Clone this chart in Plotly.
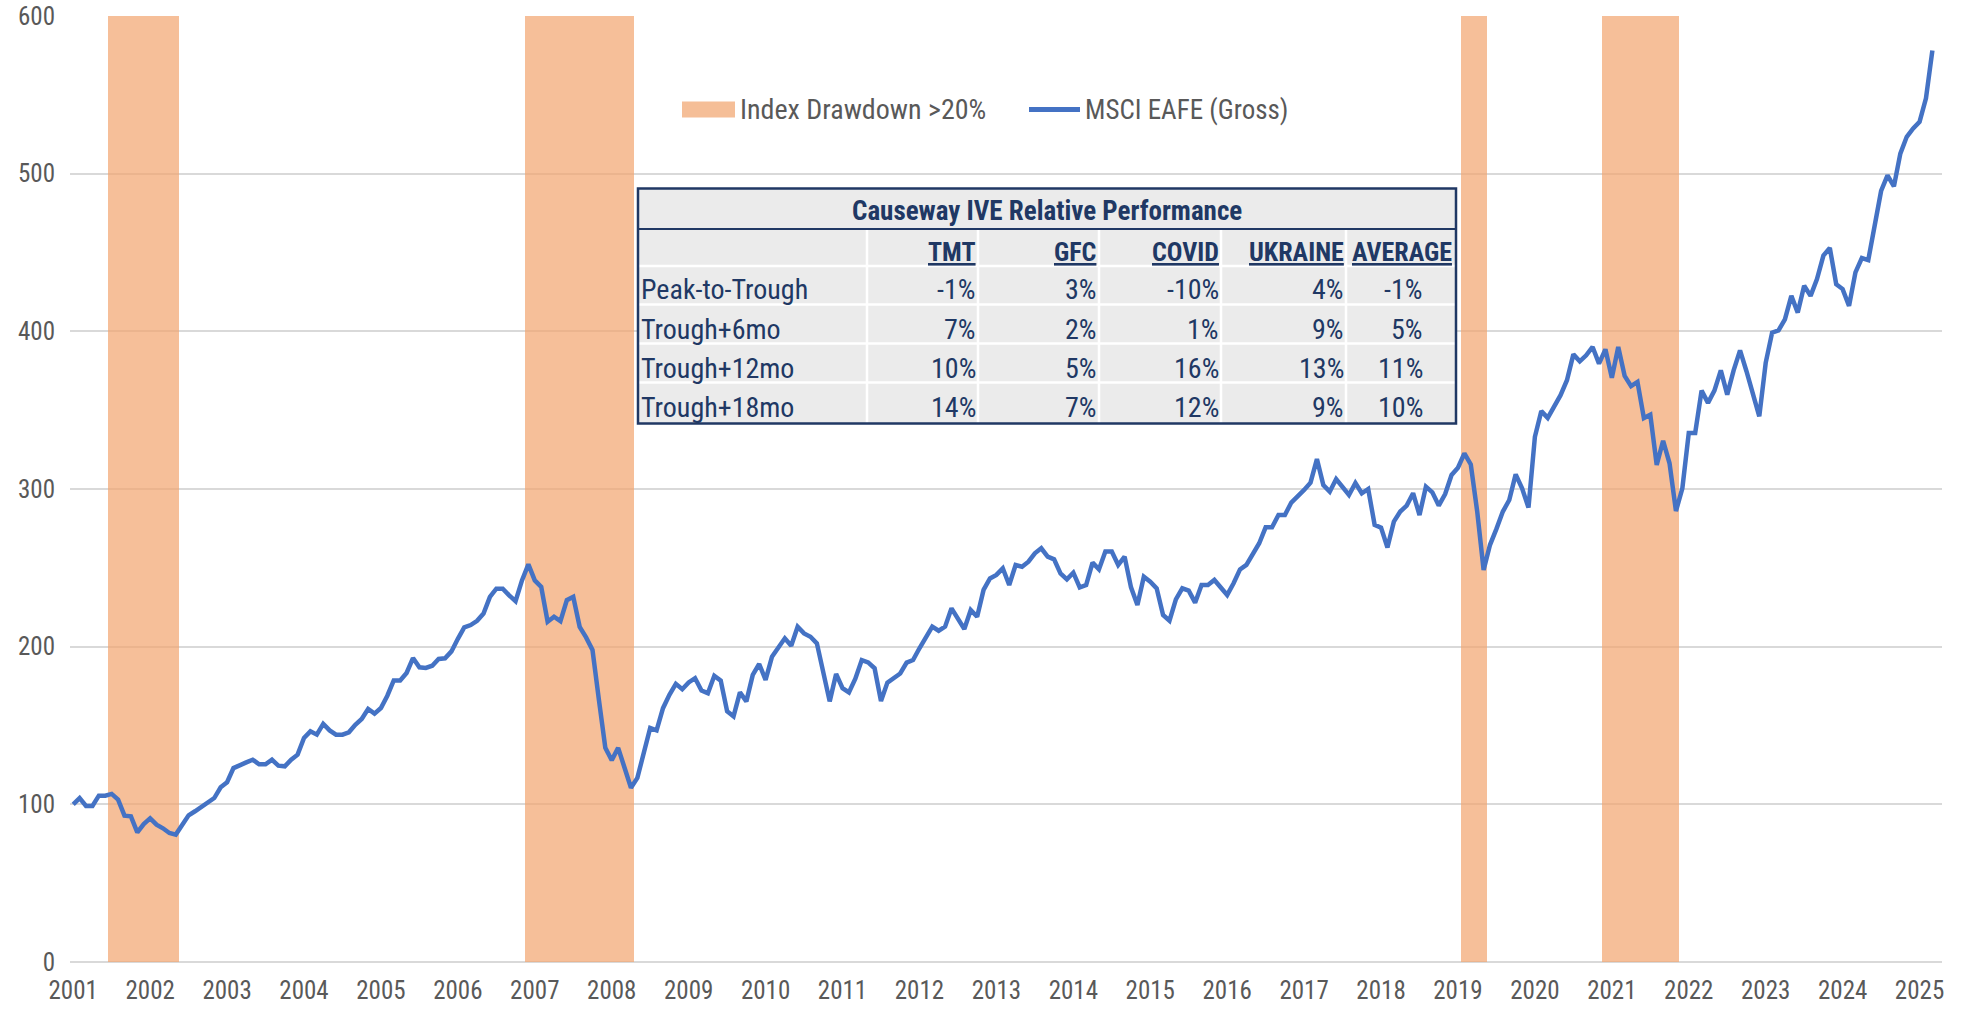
import plotly.graph_objects as go

# ---------------- data ----------------
year_labels = ["2001", "2002", "2003", "2004", "2005", "2006", "2007", "2008", "2009",
               "2010", "2011", "2012", "2013", "2014", "2015", "2016", "2017", "2018",
               "2019", "2020", "2021", "2022", "2023", "2024", "2025"]

msci_eafe = [
    100, 104, 99, 99, 105.5, 105.5, 106.6, 103, 92.8, 92.4, 82.2, 87.5,
    91.1, 87.1, 84.8, 81.8, 80.8, 87.1, 93, 95.6, 98.3, 101.3, 104, 110.8,
    114, 123, 124.5, 126.6, 128.3, 125.4, 125.4, 128.3, 124.5, 124.1, 128.3, 131.5,
    142.1, 146.3, 144.2, 151, 146.9, 144.2, 144.2, 145.7, 150.5, 154.1, 160.5, 157.5,
    161.1, 168.9, 178.6, 178.6, 183.3, 192.8, 186.9, 186.5, 187.9, 192.2, 192.6, 197,
    205, 212.2, 213.7, 216.4, 221, 231.6, 236.8, 236.8, 232.6, 228.8, 242, 252.2,
    242, 237.9, 215.8, 219, 216.2, 229.5, 231.6, 212.6, 205.9, 197.9, 166.3, 135.8,
    128, 135.8, 123.2, 110.5, 116.8, 132.6, 148.4, 146.9, 161, 169.5, 176.4, 173,
    177.3, 180, 172.2, 170.5, 181.5, 178.5, 159, 155.8, 171, 165.3, 182.1, 189,
    179, 193.7, 199, 205.3, 200.6, 212.6, 208.4, 206.3, 202.1, 184, 165.3, 182.7,
    173.7, 171, 179.7, 191.5, 190, 186.3, 165.5, 177.2, 180, 183, 189.9, 191.5,
    199, 205.3, 212.7, 210.1, 212.7, 224.3, 218, 211.2, 223.3, 219, 236, 243.3,
    245.5, 249.7, 239.1, 251.8, 250.7, 253.9, 259.2, 262.4, 257.1, 255.4, 246.5, 242.7,
    246.9, 237.6, 239.1, 253.3, 249, 260.3, 260.3, 251.8, 257.1, 237.6, 226.4, 244.4,
    241.2, 237, 220.1, 216.5, 230, 237, 235.5, 227.9, 239.1, 239.1, 242.3, 237,
    232.8, 240.2, 249, 251.9, 259.3, 265.6, 275.7, 275.7, 283.5, 283.5, 291.4, 295.1,
    299.4, 304, 319, 302.5, 298.3, 306.3, 301.5, 296.2, 303.8, 297.3, 300, 277.2,
    275.5, 262.9, 279.3, 285.7, 289.5, 297.3, 283.5, 301.5, 297.9, 289.5, 296.8, 308.9,
    313.5, 322.6, 315.6, 285.7, 248.7, 264.6, 274.7, 285.7, 293, 309.3, 300.4, 288.2,
    333.1, 349.4, 345.1, 352.7, 359.5, 369, 385.4, 381, 384.8, 390.1, 379.5, 388.6,
    370.5, 390.1, 371.7, 365.2, 367.9, 345, 347.1, 315.3, 330.6, 316.3, 286, 300.4,
    335.5, 335.5, 362.4, 354.6, 362.4, 375.2, 359.9, 375.2, 387.9, 374.7, 360.9, 346.1,
    380, 399.2, 400.6, 407.6, 422.5, 411.9, 428.9, 422.5, 433.1, 448, 452.9, 429.9,
    426.8, 416.1, 437.4, 446.5, 445.2, 467.1, 489, 498.9, 491.9, 512.7, 523.4, 528.7,
    532.9, 547.8, 578.1,
]

# drawdown periods (month index, inclusive)
drawdown_start = [6, 71, 217, 239]
drawdown_end = [16, 87, 220, 250]
drawdown_level = 600

table_title = "Causeway IVE Relative Performance"
table_columns = ["TMT", "GFC", "COVID", "UKRAINE", "AVERAGE"]
table_rows = ["Peak-to-Trough", "Trough+6mo", "Trough+12mo", "Trough+18mo"]
table_values = [
    ["-1%", "3%", "-10%", "4%", "-1%"],
    ["7%", "2%", "1%", "9%", "5%"],
    ["10%", "5%", "16%", "13%", "11%"],
    ["14%", "7%", "12%", "9%", "10%"],
]

# ---------------- build ----------------
months = list(range(len(msci_eafe)))
drawdown = [drawdown_level if any(s <= m <= e for s, e in zip(drawdown_start, drawdown_end)) else 0
            for m in months]
tick_positions = [12 * k for k in range(len(year_labels))]

FONT = "Liberation Sans Narrow, Arial Narrow, Roboto Condensed, Roboto, sans-serif"
GRAY = "#595959"
NAVY = "#203864"
ORANGE = "rgba(242,164,109,0.7)"
BLUE = "#4472C4"

# the page's body margin is removed (post_script), so figure pixels == screen pixels
W, H = 1965, 1013
SL, SR, ST, SB = 70, 1942, 16.4, 962.4


def px(x):  # screen x -> paper
    return (x - SL) / (SR - SL)


def py(y):  # screen y -> paper
    return (SB - y) / (SB - ST)


fig = go.Figure()
fig.add_trace(go.Bar(x=months, y=drawdown, width=1, marker=dict(color=ORANGE, line=dict(width=0)),
                     name="Index Drawdown >20%", showlegend=False, hoverinfo="skip"))
fig.add_trace(go.Scatter(x=months, y=msci_eafe, mode="lines", line=dict(color=BLUE, width=4.5),
                         name="MSCI EAFE (Gross)", showlegend=False))

shapes = []
annotations = []

# legend (drawn manually)
shapes.append(dict(type="rect", xref="paper", yref="paper", x0=px(682), x1=px(735), y0=py(118), y1=py(102),
                   fillcolor="#F5BE97", line=dict(width=0)))
annotations.append(dict(text="Index Drawdown >20%", xref="paper", yref="paper", x=px(738), y=py(110),
                        xanchor="left", yanchor="middle", showarrow=False,
                        font=dict(family=FONT, size=28, color=GRAY)))
shapes.append(dict(type="line", xref="paper", yref="paper", x0=px(1029), x1=px(1080), y0=py(110), y1=py(110),
                   line=dict(color=BLUE, width=5)))
annotations.append(dict(text="MSCI EAFE (Gross)", xref="paper", yref="paper", x=px(1083), y=py(110),
                        xanchor="left", yanchor="middle", showarrow=False,
                        font=dict(family=FONT, size=27, color=GRAY)))

# table
TX0, TX1, TY0, TY1 = 638, 1456, 189, 424
col_edges = [638, 867, 978, 1099, 1221, 1346, 1456]
row_edges = [230, 266.5, 305, 344, 383, 424]
shapes.append(dict(type="rect", xref="paper", yref="paper", x0=px(TX0), x1=px(TX1), y0=py(TY1), y1=py(TY0),
                   fillcolor="#EBEBEB", line=dict(width=0), layer="above"))
for cx in col_edges[1:-1]:
    shapes.append(dict(type="line", xref="paper", yref="paper", x0=px(cx), x1=px(cx), y0=py(TY1), y1=py(230),
                       line=dict(color="white", width=2.5), layer="above"))
for ry in row_edges[1:-1]:
    shapes.append(dict(type="line", xref="paper", yref="paper", x0=px(TX0), x1=px(TX1), y0=py(ry), y1=py(ry),
                       line=dict(color="white", width=2.5), layer="above"))
shapes.append(dict(type="line", xref="paper", yref="paper", x0=px(TX0), x1=px(TX1), y0=py(229.3), y1=py(229.3),
                   line=dict(color=NAVY, width=2), layer="above"))
shapes.append(dict(type="rect", xref="paper", yref="paper", x0=px(TX0), x1=px(TX1), y0=py(TY1), y1=py(TY0),
                   fillcolor="rgba(0,0,0,0)", line=dict(color=NAVY, width=2.5), layer="above"))

annotations.append(dict(text="<b>" + table_title + "</b>", xref="paper", yref="paper",
                        x=px((TX0 + TX1) / 2), y=py(211), xanchor="center", yanchor="middle",
                        showarrow=False, font=dict(family=FONT, size=27, color=NAVY)))
value_right = [976, 1097, 1219, 1344, 1423]
header_right = [976, 1097, 1219, 1344, 1452]
for c, name in enumerate(table_columns):
    annotations.append(dict(text="<b><u>" + name + "</u></b>", xref="paper", yref="paper",
                            x=px(header_right[c] + 2), y=py(252), xanchor="right", yanchor="middle",
                            showarrow=False, font=dict(family=FONT, size=26, color=NAVY)))
row_centers = [290, 329.5, 368.5, 408]
for r, label in enumerate(table_rows):
    annotations.append(dict(text=label, xref="paper", yref="paper", x=px(639), y=py(row_centers[r]),
                            xanchor="left", yanchor="middle", showarrow=False,
                            font=dict(family=FONT, size=28, color=NAVY)))
    for c, val in enumerate(table_values[r]):
        annotations.append(dict(text=val, xref="paper", yref="paper", x=px(value_right[c] + 2),
                                y=py(row_centers[r]), xanchor="right", yanchor="middle", showarrow=False,
                                font=dict(family=FONT, size=28, color=NAVY)))

fig.update_layout(
    width=W, height=H,
    margin=dict(l=SL, r=W - SR, t=ST, b=H - SB, pad=0, autoexpand=False),
    paper_bgcolor="white", plot_bgcolor="white",
    bargap=0, barmode="overlay",
    showlegend=False,
    shapes=shapes, annotations=annotations,
    xaxis=dict(range=[-0.5, len(msci_eafe) + 0.5], tickmode="array", tickvals=tick_positions,
               ticktext=year_labels, showgrid=False, zeroline=False, showline=False, automargin=False,
               ticks="", tickfont=dict(family=FONT, size=25, color=GRAY), ticklabelstandoff=11,
               ticklabeloverflow="allow"),
    yaxis=dict(range=[0, 600], dtick=100, showgrid=True, gridcolor="#D9D9D9", gridwidth=1.6,
               zeroline=True, zerolinecolor="#D9D9D9", zerolinewidth=2, showline=False, ticks="",
               automargin=False, ticklabeloverflow="allow",
               tickfont=dict(family=FONT, size=25, color=GRAY), ticklabelstandoff=14),
)

fig.write_html("out.html", config={"displayModeBar": False},
               post_script="document.body.style.margin='0';document.body.style.overflow='hidden';")
